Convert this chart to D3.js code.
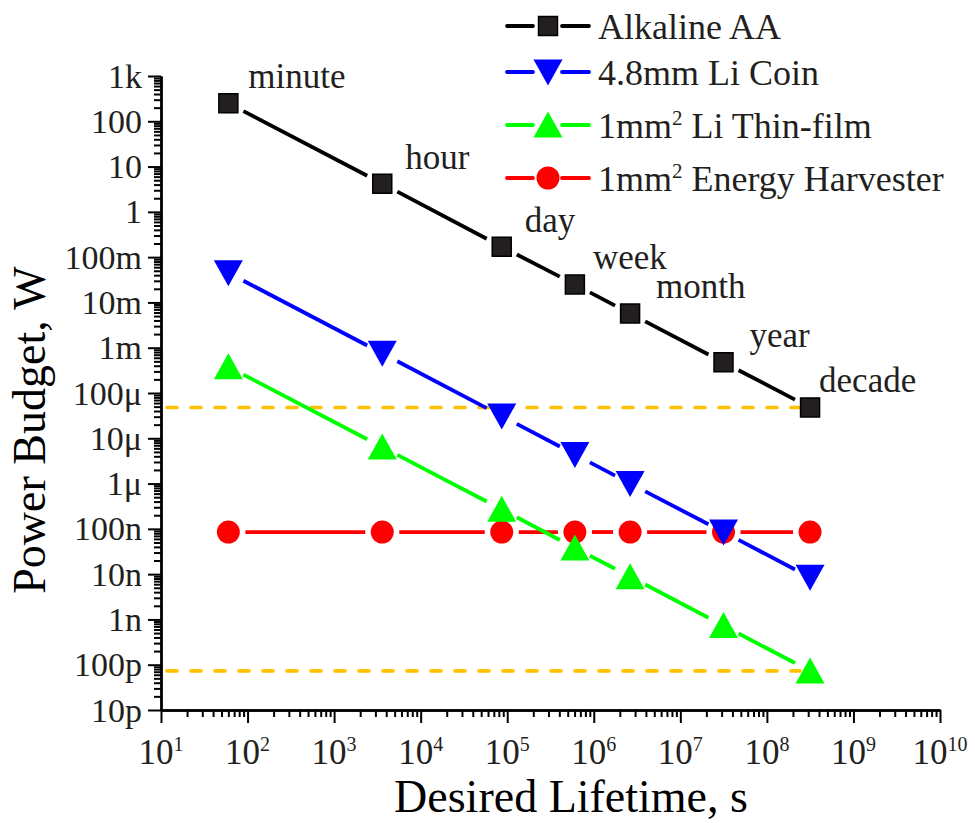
<!DOCTYPE html>
<html>
<head>
<meta charset="utf-8">
<title>Power budget vs desired lifetime</title>
<script src="https://cdn.jsdelivr.net/npm/d3@7"></script>
<style>
    body { margin: 0; background: #fff; }
    svg { display: block; font-family: "Liberation Serif", "Times New Roman", serif; }
</style>
</head>
<body>
<svg width="975" height="823"></svg>
<script>
// lifetimes in seconds and the power budget (W) of each source
var lifetimeNames = ["minute", "hour", "day", "week", "month", "year", "decade"];
var lifetimes = [60, 3600, 86400, 604800, 2628000, 31536000, 315360000];
var alkalineAA = [250, 4.2, 0.17, 0.025, 5.7e-3, 4.75e-4, 4.8e-5];
var liCoin = [4.5e-2, 7.5e-4, 3.1e-5, 4.4e-6, 1.0e-6, 8.5e-8, 8.5e-9];
var liThinFilm = [3.8e-4, 6.4e-6, 2.7e-7, 3.8e-8, 8.8e-9, 7.3e-10, 7.3e-11];
var harvester = [8.5e-8, 8.5e-8, 8.5e-8, 8.5e-8, 8.5e-8, 8.5e-8, 8.5e-8];

var xTickExps = [1, 2, 3, 4, 5, 6, 7, 8, 9, 10];
var yTickValues = [1e3, 1e2, 1e1, 1, 1e-1, 1e-2, 1e-3, 1e-4, 1e-5, 1e-6, 1e-7, 1e-8, 1e-9, 1e-10, 1e-11];
var yTickLabels = ["1k", "100", "10", "1", "100m", "10m", "1m", "100\u03bc", "10\u03bc", "1\u03bc", "100n", "10n", "1n", "100p", "10p"];

var series = [
    {name: "Alkaline AA", values: alkalineAA, color: "#000000", symbol: "square"},
    {name: "4.8mm Li Coin", values: liCoin, color: "#0000ff", symbol: "down"},
    {name: "1mm^2 Li Thin-film", values: liThinFilm, color: "#00ff00", symbol: "up"},
    {name: "1mm^2 Energy Harvester", values: harvester, color: "#ff0000", symbol: "circle"}
];

var svg = d3.select("svg");

var x = d3.scaleLog().domain([1e1, 1e10]).range([161, 940]);
var y = d3.scaleLog().domain([1e-11, 1e3]).range([710, 76]);

// minor ticks 2..9 in every decade
var xMinor = [], yMinor = [];
for (var e = 1; e < 10; e++) for (var m = 2; m < 10; m++) xMinor.push(m * Math.pow(10, e));
for (var e = -11; e < 3; e++) for (var m = 2; m < 10; m++) yMinor.push(m * Math.pow(10, e));

// x axis
var gx = svg.append("g").attr("transform", "translate(0,710)");
gx.append("g").call(d3.axisBottom(x).tickValues(xMinor).tickSize(7).tickSizeOuter(0).tickFormat(""));
gx.append("g").call(d3.axisBottom(x).tickValues(xTickExps.map(function (k) { return Math.pow(10, k); }))
    .tickSize(13).tickSizeOuter(0).tickFormat(""));
gx.selectAll("path.domain").attr("stroke-width", 2.4);
gx.selectAll(".tick line").attr("stroke-width", 2);

var xl = svg.append("g").selectAll("text").data(xTickExps).enter().append("text")
    .attr("x", function (k) { return x(Math.pow(10, k)); })
    .attr("y", 764)
    .attr("text-anchor", "middle")
    .attr("font-size", 35)
    .attr("fill", "#231f20");
xl.append("tspan").text("10");
xl.append("tspan").attr("dy", -13).attr("font-size", 20).text(function (k) { return k; });

// y axis
var gy = svg.append("g").attr("transform", "translate(161,0)");
gy.append("g").call(d3.axisLeft(y).tickValues(yMinor).tickSize(7).tickSizeOuter(0).tickFormat(""));
gy.append("g").call(d3.axisLeft(y).tickValues(yTickValues).tickSize(13).tickSizeOuter(0).tickFormat(""));
gy.selectAll("path.domain").attr("stroke-width", 2.4);
gy.selectAll(".tick line").attr("stroke-width", 2);

svg.append("g").selectAll("text").data(yTickValues).enter().append("text")
    .attr("x", 142)
    .attr("y", function (d) { return y(d); })
    .attr("dy", "0.34em")
    .attr("text-anchor", "end")
    .attr("font-size", 34)
    .attr("fill", "#231f20")
    .text(function (d, i) { return yTickLabels[i]; });

// axis titles
svg.append("text")
    .attr("x", 571).attr("y", 812)
    .attr("text-anchor", "middle")
    .attr("font-size", 46)
    .text("Desired Lifetime, s");

svg.append("text")
    .attr("transform", "translate(45,430) rotate(-90)")
    .attr("text-anchor", "middle")
    .attr("font-size", 46)
    .text("Power Budget, W");

// dashed guides at the decade level of the AA cell and the thin-film cell
var last = lifetimes.length - 1;
svg.append("g").selectAll("line").data([alkalineAA[last], liThinFilm[last]]).enter().append("line")
    .attr("x1", x(1e1) + 6)
    .attr("x2", x(lifetimes[last]) - 10)
    .attr("y1", function (d) { return y(d); })
    .attr("y2", function (d) { return y(d); })
    .attr("stroke", "#ffc000")
    .attr("stroke-width", 3.6)
    .attr("stroke-linecap", "round")
    .attr("stroke-dasharray", "10 14");

// marker shapes
function symbolPath(type) {
    if (type == "square") return "M-9.5,-9.5H9.5V9.5H-9.5Z";
    if (type == "down") return "M-14.5,-12.5L14.5,-12.5L0,13.5Z";
    if (type == "up") return "M0,-13.5L14.5,12.5L-14.5,12.5Z";
    return d3.symbol().type(d3.symbolCircle).size(Math.PI * 11.5 * 11.5)();
}
function drawMarker(sel, s) {
    sel.append("path")
        .attr("d", symbolPath(s.symbol))
        .attr("fill", s.symbol == "square" ? "#231f20" : s.color)
        .attr("stroke", s.symbol == "square" ? "#000" : "none")
        .attr("stroke-width", 1.5);
}

// line segments leave a small gap around each marker
var gap = 17;
function segments(vals) {
    var segs = [];
    for (var i = 0; i < vals.length - 1; i++) {
        var x0 = x(lifetimes[i]), y0 = y(vals[i]), x1 = x(lifetimes[i + 1]), y1 = y(vals[i + 1]);
        var len = Math.hypot(x1 - x0, y1 - y0), ux = (x1 - x0) / len, uy = (y1 - y0) / len;
        if (len > 2 * gap) segs.push([x0 + ux * gap, y0 + uy * gap, x1 - ux * gap, y1 - uy * gap]);
    }
    return segs;
}

// draw red first so the batteries sit on top of it
var drawOrder = [3, 2, 1, 0];
drawOrder.forEach(function (idx) {
    var s = series[idx];
    var g = svg.append("g");
    g.selectAll("line").data(segments(s.values)).enter().append("line")
        .attr("x1", function (d) { return d[0]; })
        .attr("y1", function (d) { return d[1]; })
        .attr("x2", function (d) { return d[2]; })
        .attr("y2", function (d) { return d[3]; })
        .attr("stroke", s.color)
        .attr("stroke-width", 3.8);
    g.selectAll("g.pt").data(s.values).enter().append("g")
        .attr("class", "pt")
        .attr("transform", function (d, i) { return "translate(" + x(lifetimes[i]) + "," + y(d) + ")"; })
        .each(function () { drawMarker(d3.select(this), s); });
});

// lifetime labels next to the AA points
var labelDx = [20, 23, 23, 18, 26, 26, 9];
svg.append("g").selectAll("text").data(alkalineAA).enter().append("text")
    .attr("x", function (d, i) { return x(lifetimes[i]) + labelDx[i]; })
    .attr("y", function (d) { return y(d) - 15; })
    .attr("font-size", 35)
    .attr("fill", "#231f20")
    .text(function (d, i) { return lifetimeNames[i]; });

// legend
var legendY = [26, 72, 125, 178];
var legend = svg.append("g").selectAll("g").data(series).enter().append("g")
    .attr("transform", function (d, i) { return "translate(548," + legendY[i] + ")"; });
legend.append("line").attr("x1", -41).attr("x2", -15).attr("stroke", function (d) { return d.color; }).attr("stroke-width", 3.8).attr("stroke-linecap", "round");
legend.append("line").attr("x1", 14).attr("x2", 41).attr("stroke", function (d) { return d.color; }).attr("stroke-width", 3.8).attr("stroke-linecap", "round");
legend.each(function (d) { drawMarker(d3.select(this), d); });
var lt = legend.append("text")
    .attr("x", 50)
    .attr("dy", "0.35em")
    .attr("font-size", 36)
    .attr("fill", "#231f20");
lt.each(function (d) {
    var t = d3.select(this), parts = d.name.split("^2");
    t.append("tspan").text(parts[0]);
    if (parts.length > 1) {
        t.append("tspan").attr("dy", -13).attr("font-size", 21).text("2");
        t.append("tspan").attr("dy", 13).text(parts[1]);
    }
});
</script>
</body>
</html>
